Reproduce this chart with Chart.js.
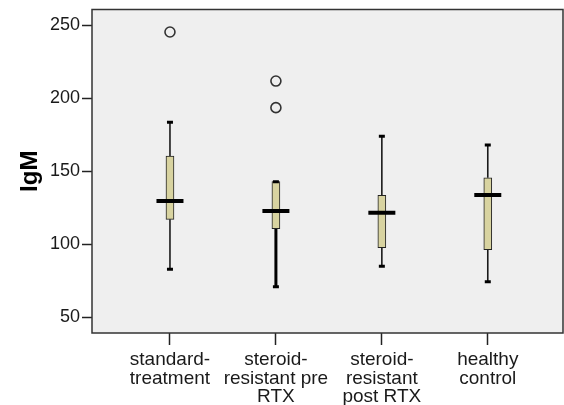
<!DOCTYPE html>
<html>
<head>
<meta charset="utf-8">
<script src="https://cdn.jsdelivr.net/npm/chart.js@4.4.1/dist/chart.umd.min.js"></script>
<style>
  html, body { margin: 0; padding: 0; background: #ffffff; }
  #wrap { width: 564px; height: 405px; position: relative; }
</style>
</head>
<body>
<div id="wrap"><canvas id="c" width="564" height="405"></canvas></div>
<script>
// ---- data ----
const categories = [
  ['standard-', 'treatment'],
  ['steroid-', 'resistant pre', 'RTX'],
  ['steroid-', 'resistant', 'post RTX'],
  ['healthy', 'control']
];
const whiskerLow  = [82.9, 71.0, 85.0, 74.4];
const q1          = [117.1, 110.7, 97.7, 96.3];
const medians     = [129.7, 122.8, 121.7, 133.8];
const q3          = [160.5, 142.9, 133.6, 145.6];
const whiskerHigh = [183.6, 142.9, 174.0, 168.0];
const outliers    = [[245.4], [211.8, 193.6], [], []];
const yTicks = [50, 100, 150, 200, 250];
const yTitle = 'IgM';

// ---- build datasets ----
const pos = categories.map((_, i) => i + 1);
const datasets = [];

// whiskers (lines from box to extremes)
pos.forEach((x, i) => {
  datasets.push({
    type: 'line', order: 3,
    data: [{x, y: whiskerLow[i]}, {x, y: q1[i]}],
    borderColor: i === 1 ? '#000000' : '#1a1a1a',
    borderWidth: i === 1 ? 3 : 1.6,
    pointRadius: 0, pointHoverRadius: 0, fill: false
  });
  if (whiskerHigh[i] > q3[i]) {
    datasets.push({
      type: 'line', order: 3,
      data: [{x, y: q3[i]}, {x, y: whiskerHigh[i]}],
      borderColor: '#1a1a1a', borderWidth: 1.6,
      pointRadius: 0, pointHoverRadius: 0, fill: false
    });
  }
});

// boxes
datasets.push({
  type: 'bar', order: 2,
  data: pos.map((x, i) => ({x, y: [q1[i], q3[i]]})),
  backgroundColor: '#d8d3a0',
  borderColor: '#222222',
  borderWidth: 1,
  borderSkipped: false,
  barThickness: 8
});

// whisker caps
datasets.push({
  type: 'scatter', order: 1,
  data: pos.flatMap((x, i) => [{x, y: whiskerLow[i]}, {x, y: whiskerHigh[i]}]),
  pointStyle: 'line', pointRadius: 3, pointHoverRadius: 3,
  borderColor: '#000000', borderWidth: 3
});

// medians
datasets.push({
  type: 'scatter', order: 0,
  data: pos.map((x, i) => ({x, y: medians[i]})),
  pointStyle: 'line', pointRadius: 13.5, pointHoverRadius: 13.5,
  borderColor: '#000000', borderWidth: 4
});

// outliers
datasets.push({
  type: 'scatter', order: 0,
  data: pos.flatMap((x, i) => outliers[i].map(y => ({x, y}))),
  pointStyle: 'circle', pointRadius: 5, pointHoverRadius: 5,
  backgroundColor: 'rgba(0,0,0,0)', borderColor: '#333333', borderWidth: 1.6
});

const framePlugin = {
  id: 'frame',
  beforeDraw(chart) {
    const {ctx, chartArea: a} = chart;
    ctx.save();
    ctx.fillStyle = '#efefef';
    ctx.fillRect(a.left, a.top, a.right - a.left, a.bottom - a.top);
    ctx.restore();
  },
  afterDatasetsDraw(chart) {
    const {ctx, chartArea: a} = chart;
    ctx.save();
    ctx.strokeStyle = '#333333';
    ctx.lineWidth = 1.5;
    ctx.strokeRect(a.left, a.top, a.right - a.left, a.bottom - a.top);
    ctx.restore();
  }
};

Chart.defaults.font.family = '"Liberation Sans", Arial, sans-serif';
Chart.defaults.color = '#1a1a1a';

new Chart(document.getElementById('c'), {
  type: 'scatter',
  data: { datasets },
  options: {
    responsive: false,
    animation: false,
    devicePixelRatio: 1,
    layout: { autoPadding: false, padding: { top: 9.5, right: 1, left: 0, bottom: 0 } },
    plugins: { legend: { display: false }, tooltip: { enabled: false } },
    scales: {
      x: {
        type: 'linear',
        offset: false,
        min: 0.264, max: 4.71,
        afterBuildTicks(scale) { scale.ticks = pos.map(v => ({value: v})); },
        afterFit(scale) {
          scale.height = 72;
          scale.paddingLeft = 0; scale.paddingRight = 0;
          scale.paddingTop = 0; scale.paddingBottom = 0;
        },
        grid: { offset: false, drawOnChartArea: false, drawTicks: true, tickLength: 12, tickColor: '#222222', tickWidth: 1.5 },
        border: { display: false },
        ticks: {
          autoSkip: false, maxRotation: 0, minRotation: 0, padding: 6,
          font: { size: 19, lineHeight: 0.97 },
          color: '#1a1a1a',
          callback: (v) => categories[Math.round(v) - 1] || ''
        }
      },
      y: {
        type: 'linear',
        min: 39.3, max: 260.8,
        afterBuildTicks(scale) { scale.ticks = yTicks.map(v => ({value: v})); },
        afterFit(scale) {
          scale.width = 92;
          scale.paddingLeft = 0; scale.paddingRight = 0;
          scale.paddingTop = 0; scale.paddingBottom = 0;
        },
        grid: { drawOnChartArea: false, drawTicks: true, tickLength: 10, tickColor: '#222222', tickWidth: 1.5 },
        border: { display: false },
        ticks: { padding: 2, font: { size: 18 }, color: '#1a1a1a' },
        title: {
          display: true, text: yTitle, color: '#000000',
          font: { size: 24, weight: 'bold' },
          padding: { top: 16, bottom: 0 }
        }
      }
    }
  },
  plugins: [framePlugin]
});
</script>
</body>
</html>
